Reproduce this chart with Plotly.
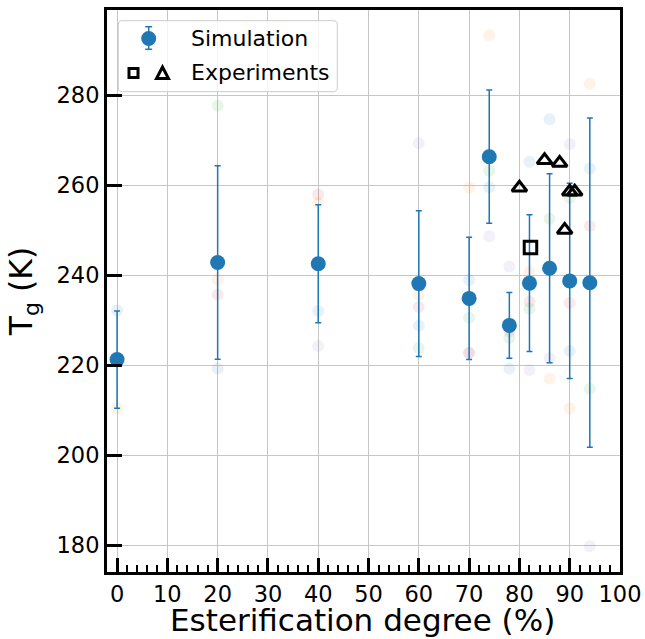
import plotly.graph_objects as go

# ---------------- data ----------------
esterification = [0, 20, 40, 60, 70, 74, 78, 82, 86, 90, 94]
tg_mean = [221.3, 242.9, 242.6, 238.2, 234.9, 266.4, 228.9, 238.3, 241.6, 238.8, 238.4]
tg_err = [10.8, 21.5, 13.1, 16.2, 13.6, 14.8, 7.3, 15.2, 21.0, 21.7, 36.6]

# individual simulation runs (faint points)
run_blue = [232.2, 219.3, 232.1, 228.8, 239.0, 259.6, 219.3, 265.3, 274.7, 223.2, 263.8]
run_orange = [210.5, 239.1, 256.1, 235.7, 259.5, 293.4, 229.5, 240.8, 217.1, 210.5, 282.6]
run_green = [221.5, 277.7, 242.5, 223.9, 230.6, 263.3, 226.1, 232.6, 252.6, 257.2, 214.8]
run_red = [221.0, 235.7, 258.0, 233.0, 222.8, 267.0, 227.6, 234.2, 242.0, 233.9, 251.0]
run_purple = [221.3, 243.2, 224.3, 269.4, 222.8, 248.7, 242.0, 219.0, 221.6, 269.2, 179.8]

exp_square_x = [82.2]
exp_square_y = [246.2]
exp_tri_x = [80, 85, 88, 90, 91, 89]
exp_tri_y = [259.5, 265.6, 265.0, 258.6, 258.6, 250.1]

x_ticks = [0, 10, 20, 30, 40, 50, 60, 70, 80, 90, 100]
y_ticks = [180, 200, 220, 240, 260, 280]

x_title = "Esterification degree (%)"
y_title = "T<sub>g</sub> (K)"

# ---------------- layout geometry (pixels) ----------------
W, H = 645, 639
L, R, T, B = 107, 620, 10, 572
FONT = "DejaVu Sans"


def pxx(x):
    return (x - L) / (R - L)


def pxy(y):
    return 1 - (y - T) / (B - T)


fig = go.Figure()

run_sets = [
    (run_blue, "#1f77b4"),
    (run_orange, "#ff7f0e"),
    (run_green, "#2ca02c"),
    (run_red, "#d62728"),
    (run_purple, "#9467bd"),
]
for vals, col in run_sets:
    fig.add_trace(go.Scatter(
        x=esterification, y=vals, mode="markers",
        marker=dict(size=12, color=col, opacity=0.1, line=dict(width=0)),
        showlegend=False, hoverinfo="skip"))

fig.add_trace(go.Scatter(
    x=esterification, y=tg_mean, mode="markers",
    marker=dict(size=15, color="#1f77b4", line=dict(width=0)),
    error_y=dict(type="data", array=tg_err, color="#1f77b4", thickness=1.5, width=3),
    showlegend=False, name="Simulation"))

fig.add_trace(go.Scatter(
    x=exp_square_x, y=exp_square_y, mode="markers",
    marker=dict(symbol="square-open", size=12.5, color="black",
                line=dict(width=3, color="black")),
    showlegend=False))
fig.add_trace(go.Scatter(
    x=exp_tri_x, y=exp_tri_y, mode="markers",
    marker=dict(symbol="triangle-up-open", size=13, color="black",
                line=dict(width=3, color="black")),
    showlegend=False))

# ---------------- custom legend ----------------
shapes = []
x0, y0, x1, y1, r = 118.3, 20.7, 337.3, 91.7, 4


def P(x, y):
    return f"{pxx(x):.6f},{pxy(y):.6f}"


box = (f"M {P(x0 + r, y0)} L {P(x1 - r, y0)} Q {P(x1, y0)} {P(x1, y0 + r)} "
       f"L {P(x1, y1 - r)} Q {P(x1, y1)} {P(x1 - r, y1)} L {P(x0 + r, y1)} "
       f"Q {P(x0, y1)} {P(x0, y1 - r)} L {P(x0, y0 + r)} Q {P(x0, y0)} {P(x0 + r, y0)} Z")
shapes.append(dict(type="path", xref="paper", yref="paper", path=box,
                   fillcolor="rgba(255,255,255,0.8)", line=dict(color="#cccccc", width=1),
                   layer="above"))
# simulation handle
cx, cy = 148.7, 38.5
shapes.append(dict(type="line", xref="paper", yref="paper", x0=pxx(cx), x1=pxx(cx),
                   y0=pxy(26.7), y1=pxy(49.3), line=dict(color="#1f77b4", width=1.5), layer="above"))
for yy in (26.7, 49.3):
    shapes.append(dict(type="line", xref="paper", yref="paper", x0=pxx(cx - 3.5), x1=pxx(cx + 3.5),
                       y0=pxy(yy), y1=pxy(yy), line=dict(color="#1f77b4", width=1.5), layer="above"))
shapes.append(dict(type="circle", xref="paper", yref="paper", x0=pxx(cx - 7.5), x1=pxx(cx + 7.5),
                   y0=pxy(cy - 7.5), y1=pxy(cy + 7.5), fillcolor="#1f77b4",
                   line=dict(width=0), layer="above"))
# experiments handles
sx, sy, s = 133.5, 73.0, 9
shapes.append(dict(type="rect", xref="paper", yref="paper", x0=pxx(sx - s / 2), x1=pxx(sx + s / 2),
                   y0=pxy(sy - s / 2), y1=pxy(sy + s / 2), line=dict(color="black", width=3),
                   fillcolor="rgba(0,0,0,0)", layer="above"))
tx, ty = 162.5, 73.0
tri = f"M {P(tx - 6, ty + 5.5)} L {P(tx + 6, ty + 5.5)} L {P(tx, ty - 6)} Z"
shapes.append(dict(type="path", xref="paper", yref="paper", path=tri,
                   line=dict(color="black", width=3), fillcolor="rgba(0,0,0,0)", layer="above"))

annotations = [
    dict(text="Simulation", xref="paper", yref="paper", x=pxx(189), y=pxy(38.5),
         xanchor="left", yanchor="middle", showarrow=False,
         font=dict(family=FONT, size=22, color="black")),
    dict(text="Experiments", xref="paper", yref="paper", x=pxx(189), y=pxy(72.5),
         xanchor="left", yanchor="middle", showarrow=False,
         font=dict(family=FONT, size=22, color="black")),
    # x axis title (sits at the bottom edge, below the tick labels)
    dict(text=x_title, xref="paper", yref="paper", x=pxx(362.5), y=pxy(639),
         xanchor="center", yanchor="bottom", showarrow=False, borderpad=0,
         font=dict(family=FONT, size=31, color="black")),
]

axis_common = dict(
    automargin=False,
    showgrid=True, gridcolor="#c6c6c6", gridwidth=1,
    ticks="inside", tickcolor="black", tickwidth=3,
    showline=True, linecolor="black", linewidth=3, mirror=True,
    zeroline=False, tickfont=dict(family=FONT, size=22.5, color="black"),
)

fig.update_layout(
    template="none",
    width=W, height=H,
    margin=dict(l=L, r=W - R, t=T, b=H - B, autoexpand=False),
    paper_bgcolor="white", plot_bgcolor="white",
    font=dict(family=FONT, color="black"),
    showlegend=False,
    shapes=shapes, annotations=annotations,
    xaxis=dict(
        **axis_common, range=[-2, 100], tickmode="array", tickvals=x_ticks,
        ticktext=[str(v) for v in x_ticks], ticklen=14,
        minor=dict(ticks="inside", ticklen=7, tickwidth=2, tickcolor="black",
                   dtick=2, tick0=0, showgrid=False),
    ),
    yaxis=dict(
        **axis_common, range=[174.1, 299], tickmode="array", tickvals=y_ticks,
        ticktext=[str(v) for v in y_ticks], ticklen=15,
        title=dict(text=y_title, font=dict(family=FONT, size=31.5)),
    ),
)

fig.write_html("out.html")
